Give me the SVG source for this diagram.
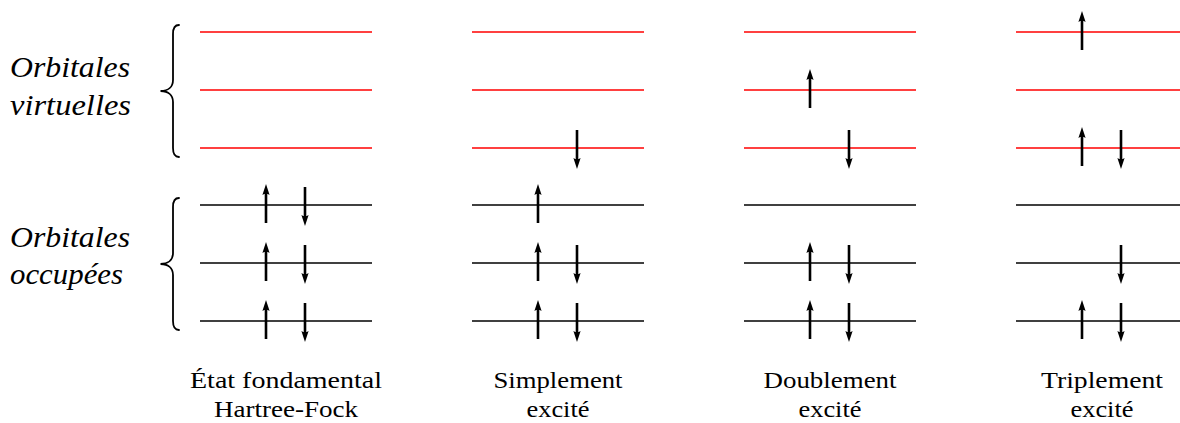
<svg xmlns="http://www.w3.org/2000/svg" xmlns:xlink="http://www.w3.org/1999/xlink" width="1180" height="423" viewBox="0 0 1180 423">
<style>
.virt{stroke:#ff0000;stroke-width:1.4;fill:none}
.occ{stroke:#000;stroke-width:1.3;fill:none}
.shaft{stroke:#000;stroke-width:2.6;fill:none}
.head{fill:#000;stroke:none}
.brace{stroke:#000;stroke-width:1.8;fill:none;stroke-linecap:round}
.side{font-family:'Liberation Serif','DejaVu Serif',serif;font-style:italic;font-size:30px;fill:#000}
.cap{font-family:'Liberation Serif','DejaVu Serif',serif;font-size:24px;fill:#000;text-anchor:middle}
</style>
<defs>
<g id="up">
<line class="shaft" x1="0" y1="18" x2="0" y2="-13"/>
<path class="head" d="M0,-21 L-3.6,-10 Q0,-12.5 3.6,-10 Z"/>
</g>
<g id="down">
<line class="shaft" x1="0" y1="-18" x2="0" y2="13"/>
<path class="head" d="M0,21 L-3.6,10 Q0,12.5 3.6,10 Z"/>
</g>
<g id="levels">
<line class="virt" x1="0" y1="32" x2="172" y2="32"/>
<line class="virt" x1="0" y1="90" x2="172" y2="90"/>
<line class="virt" x1="0" y1="148" x2="172" y2="148"/>
<line class="occ" x1="0" y1="205" x2="172" y2="205"/>
<line class="occ" x1="0" y1="263" x2="172" y2="263"/>
<line class="occ" x1="0" y1="321" x2="172" y2="321"/>
</g>
</defs>

<g id="labels-left">
<text class="side" x="10" y="77" textLength="120" lengthAdjust="spacingAndGlyphs">Orbitales</text>
<text class="side" x="10" y="115" textLength="121" lengthAdjust="spacingAndGlyphs">virtuelles</text>
<text class="side" x="10" y="247" textLength="120" lengthAdjust="spacingAndGlyphs">Orbitales</text>
<text class="side" x="10" y="284" textLength="113" lengthAdjust="spacingAndGlyphs">occupées</text>
</g>

<g id="connectors">
<path class="brace" d="M179,25 C175,25 173,28 173,34 L173,80 C173,87 168,91 160.5,91 C168,91 173,95 173,102 L173,148 C173,154 175,157 179,157"/>
<path class="brace" d="M179,198 C175,198 173,201 173,207 L173,253 C173,260 168,264 160.5,264 C168,264 173,268 173,275 L173,321 C173,327 175,330 179,330"/>
</g>

<g id="col-hf" transform="translate(200,0)">
<use xlink:href="#levels"/>
<use xlink:href="#up" x="66" y="205"/>
<use xlink:href="#down" x="105" y="205"/>
<use xlink:href="#up" x="66" y="263"/>
<use xlink:href="#down" x="105" y="263"/>
<use xlink:href="#up" x="66" y="321"/>
<use xlink:href="#down" x="105" y="321"/>
<text class="cap" x="86" y="388" textLength="192" lengthAdjust="spacingAndGlyphs">État fondamental</text>
<text class="cap" x="86" y="417" textLength="144" lengthAdjust="spacingAndGlyphs">Hartree-Fock</text>
</g>

<g id="col-single" transform="translate(472,0)">
<use xlink:href="#levels"/>
<use xlink:href="#down" x="105" y="148"/>
<use xlink:href="#up" x="66" y="205"/>
<use xlink:href="#up" x="66" y="263"/>
<use xlink:href="#down" x="105" y="263"/>
<use xlink:href="#up" x="66" y="321"/>
<use xlink:href="#down" x="105" y="321"/>
<text class="cap" x="86" y="388" textLength="129" lengthAdjust="spacingAndGlyphs">Simplement</text>
<text class="cap" x="86" y="417" textLength="63" lengthAdjust="spacingAndGlyphs">excité</text>
</g>

<g id="col-double" transform="translate(744,0)">
<use xlink:href="#levels"/>
<use xlink:href="#up" x="66" y="90"/>
<use xlink:href="#down" x="105" y="148"/>
<use xlink:href="#up" x="66" y="263"/>
<use xlink:href="#down" x="105" y="263"/>
<use xlink:href="#up" x="66" y="321"/>
<use xlink:href="#down" x="105" y="321"/>
<text class="cap" x="86" y="388" textLength="133" lengthAdjust="spacingAndGlyphs">Doublement</text>
<text class="cap" x="86" y="417" textLength="63" lengthAdjust="spacingAndGlyphs">excité</text>
</g>

<g id="col-triple" transform="translate(1016,0)">
<use xlink:href="#levels"/>
<use xlink:href="#up" x="66" y="32"/>
<use xlink:href="#up" x="66" y="148"/>
<use xlink:href="#down" x="105" y="148"/>
<use xlink:href="#down" x="105" y="263"/>
<use xlink:href="#up" x="66" y="321"/>
<use xlink:href="#down" x="105" y="321"/>
<text class="cap" x="86" y="388" textLength="122" lengthAdjust="spacingAndGlyphs">Triplement</text>
<text class="cap" x="86" y="417" textLength="63" lengthAdjust="spacingAndGlyphs">excité</text>
</g>
</svg>
